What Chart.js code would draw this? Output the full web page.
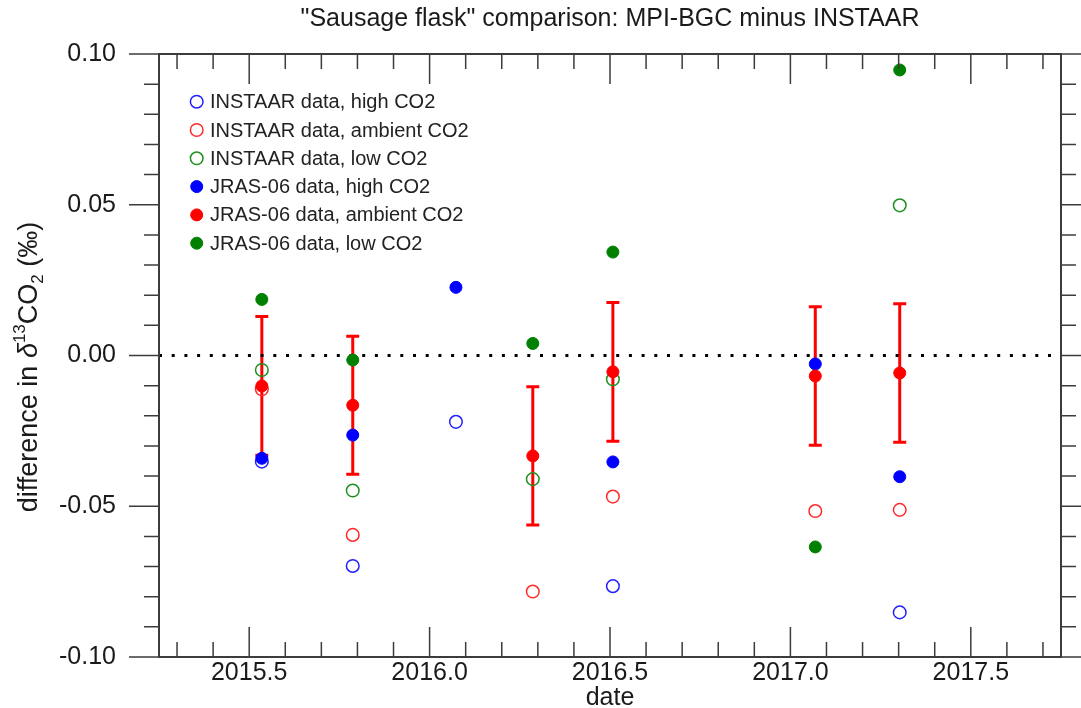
<!DOCTYPE html>
<html>
<head>
<meta charset="utf-8">
<script src="https://cdn.jsdelivr.net/npm/chart.js@4.4.0/dist/chart.umd.min.js"></script>
<style>
  html, body { margin: 0; padding: 0; background: #fff; }
  #wrap { width: 1081px; height: 708px; }
</style>
</head>
<body>
<div id="wrap"><canvas id="graph" width="1081" height="708"></canvas></div>
<script>
// flask dates (decimal year) and MPI-BGC minus INSTAAR differences (permil)
const dates = [2015.535, 2015.787, 2016.073, 2016.286, 2016.508, 2017.069, 2017.303];
const instaarHigh = [-0.0352, -0.0698, -0.0220, null, -0.0765, null, -0.0852];
const instaarAmb = [-0.0112, -0.0595, null, -0.0783, -0.0468, -0.0516, -0.0512];
const instaarLow = [-0.0048, -0.0448, null, -0.0410, -0.0079, null, 0.0498];
const jrasHigh = [-0.0341, -0.0264, 0.0226, null, -0.0353, -0.0028, -0.0402];
const jrasAmb = [-0.0101, -0.0165, null, -0.0333, -0.0054, -0.0068, -0.0058];
const jrasAmbErr = [0.0230, 0.0229, null, 0.0229, 0.0230, 0.0230, 0.0230];
const jrasLow = [0.0186, -0.0015, null, 0.0040, 0.0343, -0.0635, 0.0947];
const xTicks = [2015.5, 2016.0, 2016.5, 2017.0, 2017.5];
const yTicks = [-0.10, -0.05, 0.00, 0.05, 0.10];

const FONT = '"Liberation Sans", Arial, Helvetica, sans-serif';
const BLUE = '#0000ff', RED = '#ff0000', GREEN = '#008000';
Chart.defaults.font.family = FONT;
Chart.defaults.color = '#1a1a1a';

function pts(vals) {
	return dates.map((d, i) => ({ x: d, y: vals[i] })).filter(p => p.y !== null);
}

function openSet(label, vals, col, row, order) {
	return {
		label: label, data: pts(vals), legendRow: row, hollow: true, order: order,
		pointRadius: 6.3, pointBorderWidth: 1.5,
		borderColor: col, backgroundColor: 'rgba(0,0,0,0)'
	};
}

function fillSet(label, vals, col, row, order) {
	return {
		label: label, data: pts(vals), legendRow: row, hollow: false, order: order,
		pointRadius: 6, pointBorderWidth: 1,
		borderColor: col, backgroundColor: col
	};
}

// error bars on the JRAS-06 ambient points
const errorBars = {
	id: 'errorBars',
	beforeDatasetsDraw(chart) {
		const { ctx, scales: { x, y } } = chart;
		ctx.save();
		ctx.strokeStyle = RED;
		ctx.lineWidth = 3;
		dates.forEach((d, i) => {
			if (jrasAmb[i] === null) return;
			const px = x.getPixelForValue(d);
			const top = y.getPixelForValue(jrasAmb[i] + jrasAmbErr[i]);
			const bot = y.getPixelForValue(jrasAmb[i] - jrasAmbErr[i]);
			ctx.beginPath();
			ctx.moveTo(px, top); ctx.lineTo(px, bot);
			ctx.moveTo(px - 6.5, top); ctx.lineTo(px + 6.5, top);
			ctx.moveTo(px - 6.5, bot); ctx.lineTo(px + 6.5, bot);
			ctx.stroke();
		});
		ctx.restore();
	}
};

// box with IDL-style tick marks
const frame = {
	id: 'frame',
	afterDatasetsDraw(chart) {
		const { ctx, chartArea: a, scales: { x, y } } = chart;
		ctx.save();
		ctx.strokeStyle = '#3c3c3c';
		ctx.lineWidth = 2;
		ctx.strokeRect(a.left, a.top, a.right - a.left, a.bottom - a.top);
		ctx.lineWidth = 1.5;
		ctx.beginPath();
		for (let k = 20153; k <= 20177; k++) {
			const px = x.getPixelForValue(k / 10);
			const len = k % 5 === 0 ? 30 : 15;
			ctx.moveTo(px, a.bottom); ctx.lineTo(px, a.bottom - len);
			ctx.moveTo(px, a.top); ctx.lineTo(px, a.top + len);
		}
		for (let k = -10; k <= 10; k++) {
			const py = y.getPixelForValue(k / 100);
			const len = k % 5 === 0 ? 30 : 15;
			ctx.moveTo(a.left, py); ctx.lineTo(a.left - len, py);
			ctx.moveTo(a.right, py); ctx.lineTo(a.right + len, py);
		}
		ctx.stroke();
		ctx.restore();
	}
};

// legend inside the plot, upper left
const insideLegend = {
	id: 'insideLegend',
	afterDraw(chart) {
		const { ctx, chartArea: a } = chart;
		ctx.save();
		ctx.font = '20px ' + FONT;
		ctx.textBaseline = 'middle';
		chart.data.datasets.forEach(ds => {
			if (ds.legendRow === undefined) return;
			const cy = a.top + 47.7 + ds.legendRow * 28.3;
			const cx = a.left + 37.7;
			ctx.beginPath();
			ctx.arc(cx, cy, ds.pointRadius, 0, Math.PI * 2);
			ctx.lineWidth = ds.pointBorderWidth;
			ctx.strokeStyle = ds.borderColor;
			if (!ds.hollow) { ctx.fillStyle = ds.backgroundColor; ctx.fill(); }
			ctx.stroke();
			ctx.fillStyle = '#222';
			ctx.fillText(ds.label, a.left + 51, cy + 1);
		});
		ctx.restore();
	}
};

// title centred over the plot box, and rotated y title with super/subscript
const titles = {
	id: 'titles',
	afterDraw(chart) {
		const { ctx, chartArea: a } = chart;
		ctx.save();
		ctx.fillStyle = '#1a1a1a';
		ctx.font = '25px ' + FONT;
		ctx.textAlign = 'center';
		ctx.textBaseline = 'middle';
		ctx.fillText('"Sausage flask" comparison: MPI-BGC minus INSTAAR', (a.left + a.right) / 2, 19);

		const parts = [
			{ t: 'difference in ', f: '27px ' + FONT, dy: 0 },
			{ t: '\u03b4', f: 'italic 27px ' + FONT, dy: 0 },
			{ t: '13', f: '17px ' + FONT, dy: -12 },
			{ t: 'CO', f: '27px ' + FONT, dy: 0 },
			{ t: '2', f: '17px ' + FONT, dy: 6 },
			{ t: ' (\u2030)', f: '27px ' + FONT, dy: 0 }
		];
		let total = 0;
		parts.forEach(p => { ctx.font = p.f; p.w = ctx.measureText(p.t).width; total += p.w; });
		ctx.translate(37, 367);
		ctx.rotate(-Math.PI / 2);
		ctx.textAlign = 'left';
		ctx.textBaseline = 'alphabetic';
		let pos = -total / 2;
		parts.forEach(p => { ctx.font = p.f; ctx.fillText(p.t, pos, p.dy); pos += p.w; });
		ctx.restore();
	}
};

const ctx1 = document.getElementById('graph');

new Chart(ctx1, {
	type: 'scatter',
	data: {
		datasets: [
			openSet('INSTAAR data, high CO2', instaarHigh, '#2020ff', 0, 6),
			openSet('INSTAAR data, ambient CO2', instaarAmb, '#ff2a2a', 1, 5),
			openSet('INSTAAR data, low CO2', instaarLow, '#1f8f1f', 2, 4),
			fillSet('JRAS-06 data, high CO2', jrasHigh, BLUE, 3, 3),
			fillSet('JRAS-06 data, ambient CO2', jrasAmb, RED, 4, 1),
			fillSet('JRAS-06 data, low CO2', jrasLow, GREEN, 5, 2),
			{
				label: 'zero',
				data: [{ x: 2015.25, y: 0 }, { x: 2017.75, y: 0 }],
				showLine: true, pointRadius: 0, order: 7,
				borderColor: '#000', borderWidth: 3, borderDash: [3, 9.7]
			}
		]
	},
	options: {
		responsive: false,
		animation: false,
		devicePixelRatio: 1,
		events: [],
		layout: { autoPadding: false, padding: { left: 0, top: 54, right: 20, bottom: 0 } },
		plugins: {
			legend: { display: false },
			tooltip: { enabled: false },
			title: { display: false }
		},
		scales: {
			x: {
				type: 'linear',
				min: 2015.25,
				max: 2017.75,
				grid: { display: false, drawTicks: false },
				border: { display: false },
				afterBuildTicks: s => { s.ticks = xTicks.map(v => ({ value: v })); },
				afterFit: s => { s.height = 51; },
				ticks: {
					font: { size: 25 },
					padding: 1,
					maxRotation: 0,
					autoSkip: false,
					callback: v => v.toFixed(1)
				},
				title: {
					display: true,
					text: 'date',
					font: { size: 25, lineHeight: 0.78 },
					padding: { top: 0, bottom: 0 }
				}
			},
			y: {
				type: 'linear',
				min: -0.10,
				max: 0.10,
				// tick marks are drawn by the frame plugin; tickLength only spaces the labels
				grid: { display: false, drawTicks: true, tickLength: 43 },
				border: { display: false },
				afterBuildTicks: s => { s.ticks = yTicks.map(v => ({ value: v })); },
				afterFit: s => { s.width = 159; },
				ticks: {
					font: { size: 25 },
					padding: 0,
					autoSkip: false,
					callback: v => v.toFixed(2)
				}
			}
		}
	},
	plugins: [errorBars, frame, insideLegend, titles]
});
</script>
</body>
</html>
